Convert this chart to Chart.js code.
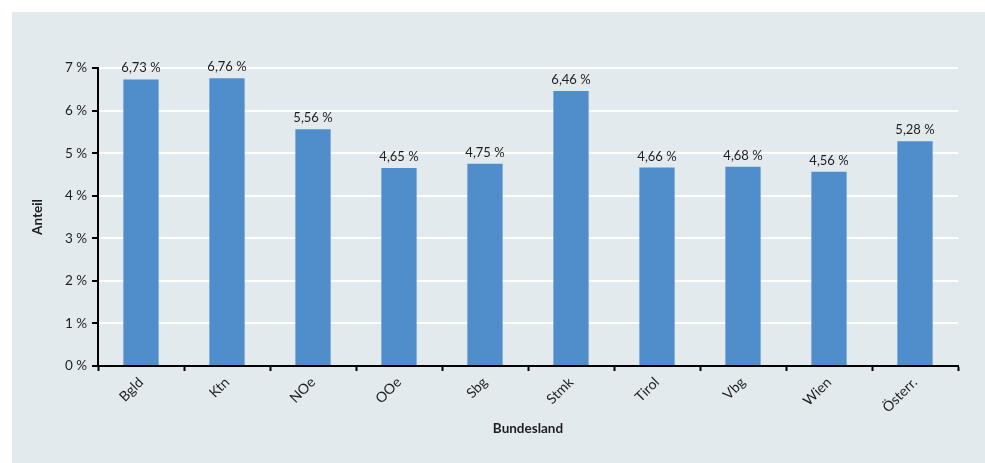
<!DOCTYPE html>
<html lang="de">
<head>
    <meta charset="UTF-8">
    <title>Anteil nach Bundesland</title>
    <script src="https://cdn.jsdelivr.net/npm/chart.js"></script>
    <style>
        html, body {
            margin: 0;
            padding: 0;
            background-color: #ffffff;
        }

        .panel {
            position: absolute;
            left: 12px;
            top: 12px;
            width: 973px;
            height: 451px;
            background-color: #e3eaee;
        }
    </style>
</head>
<body>
<div class="panel">
    <canvas id="anteilChart" width="973" height="451"></canvas>
</div>

<script>
    // Daten
    const bundeslaender = ['Bgld', 'Ktn', 'NOe', 'OOe', 'Sbg', 'Stmk', 'Tirol', 'Vbg', 'Wien', 'Österr.'];
    const anteile = [6.73, 6.76, 5.56, 4.65, 4.75, 6.46, 4.66, 4.68, 4.56, 5.28];
    const yTicks = [0, 1, 2, 3, 4, 5, 6, 7];

    const fontFamily = 'Lato, "Open Sans", sans-serif';
    const textColor = '#1e1e1e';

    function pct(v, digits) {
        return v.toFixed(digits).replace('.', ',') + ' %';
    }

    // Werte über den Balken
    const valueLabels = {
        id: 'valueLabels',
        afterDatasetsDraw(chart) {
            const c = chart.ctx;
            const meta = chart.getDatasetMeta(0);
            c.save();
            c.font = '13px ' + fontFamily;
            c.fillStyle = textColor;
            c.textAlign = 'center';
            c.textBaseline = 'alphabetic';
            meta.data.forEach((bar, i) => {
                c.fillText(pct(anteile[i], 2), bar.x, bar.y - 7);
            });
            c.restore();
        }
    };

    const ctx = document.getElementById('anteilChart').getContext('2d');
    new Chart(ctx, {
        type: 'bar',
        data: {
            labels: bundeslaender,
            datasets: [{
                data: anteile,
                backgroundColor: '#4f8ecb',
                borderWidth: 0,
                barPercentage: 0.41,
                categoryPercentage: 1
            }]
        },
        options: {
            responsive: false,
            animation: false,
            layout: {
                padding: { top: 56, right: 27, left: 18, bottom: 0 }
            },
            plugins: {
                legend: { display: false },
                tooltip: { enabled: false }
            },
            scales: {
                x: {
                    afterFit: (scale) => { scale.height = 97; },
                    grid: {
                        offset: true,
                        drawOnChartArea: false,
                        tickColor: '#000000',
                        tickWidth: 2,
                        tickLength: 5
                    },
                    border: { color: '#000000', width: 2 },
                    ticks: {
                        minRotation: 45,
                        maxRotation: 45,
                        color: textColor,
                        font: { family: fontFamily, size: 14 },
                        padding: 3
                    },
                    title: {
                        display: true,
                        text: 'Bundesland',
                        color: textColor,
                        font: { family: fontFamily, size: 13.5, weight: 'bold' },
                        padding: { top: 0, bottom: 26 }
                    }
                },
                y: {
                    min: 0,
                    max: 7,
                    afterFit: (scale) => { scale.width = 68; },
                    afterBuildTicks: (scale) => {
                        scale.ticks = yTicks.map(v => ({ value: v }));
                    },
                    grid: {
                        color: '#ffffff',
                        lineWidth: 2,
                        tickColor: '#000000',
                        tickWidth: 2,
                        tickLength: 6
                    },
                    border: { color: '#000000', width: 2 },
                    ticks: {
                        color: textColor,
                        font: { family: fontFamily, size: 13.5 },
                        padding: 5,
                        callback: (v) => pct(v, 0)
                    },
                    title: {
                        display: true,
                        text: 'Anteil',
                        color: textColor,
                        font: { family: fontFamily, size: 13.5, weight: 'bold' },
                        padding: { top: 0, bottom: 0 }
                    }
                }
            }
        },
        plugins: [valueLabels]
    });
</script>
</body>
</html>
